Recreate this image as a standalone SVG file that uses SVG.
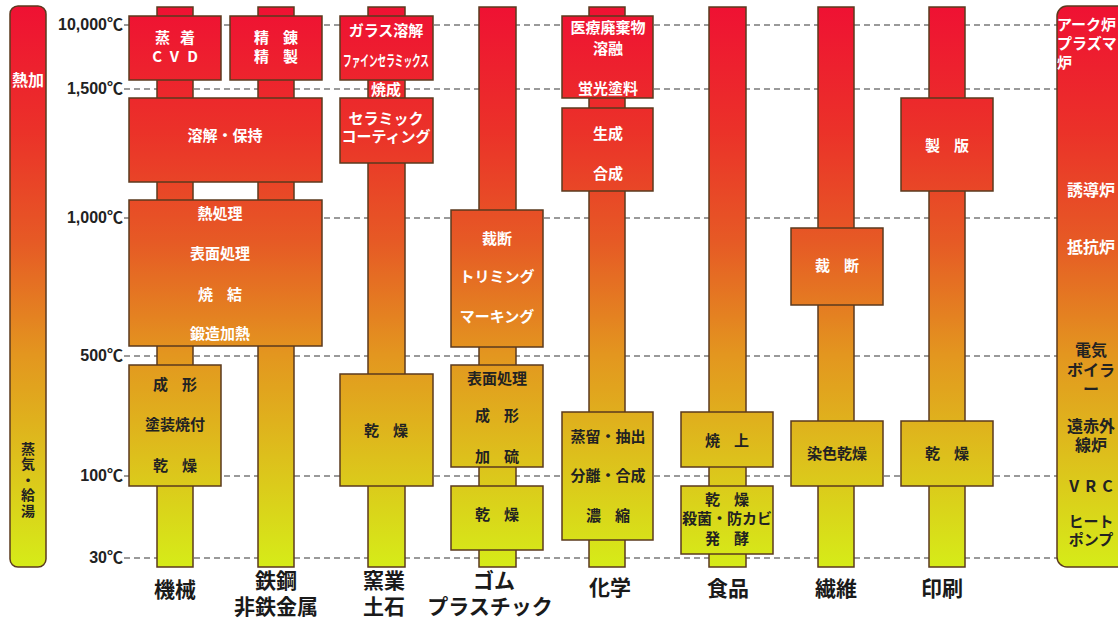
<svg xmlns="http://www.w3.org/2000/svg" width="1118" height="623" viewBox="0 0 1118 623">
<defs>
<linearGradient id="heat" gradientUnits="userSpaceOnUse" x1="0" y1="6" x2="0" y2="568">
<stop offset="0" stop-color="#EF1133"/>
<stop offset="0.22" stop-color="#EB3129"/>
<stop offset="0.42" stop-color="#E65A25"/>
<stop offset="0.62" stop-color="#E3961F"/>
<stop offset="0.8" stop-color="#DDBF1C"/>
<stop offset="1" stop-color="#D6EC18"/>
</linearGradient>
<style>
.bar{fill:url(#heat);stroke:#5b3a1e;stroke-width:1.5}
.box{fill:url(#heat);stroke:#5b3a1e;stroke-width:1.5}
.dash{stroke:#7a7a7a;stroke-width:1.6;stroke-dasharray:6 4;fill:none}
text{font-family:"Noto Sans CJK JP","Liberation Sans",sans-serif;font-weight:bold;text-anchor:middle}
.w{fill:#ffffff;font-size:15px}
.d{fill:#222222;font-size:15px}
.temp{fill:#222222;font-size:16px;text-anchor:end;font-family:"Liberation Sans","Noto Sans CJK JP",sans-serif}
.lab{fill:#1a1a1a;font-size:21px}
.side{font-size:16px}
.sm{font-size:15px}
.ls{font-size:14px}
.st{text-anchor:start}
</style>
</defs>
<rect width="1118" height="623" fill="#ffffff"/>

<g id="connectors">
<line class="dash" x1="124" y1="25" x2="1058" y2="25"/>
<line class="dash" x1="124" y1="89" x2="1058" y2="89"/>
<line class="dash" x1="124" y1="218" x2="1058" y2="218"/>
<line class="dash" x1="124" y1="356" x2="1058" y2="356"/>
<line class="dash" x1="124" y1="476" x2="1058" y2="476"/>
<line class="dash" x1="124" y1="558" x2="1058" y2="558"/>
</g>

<g id="scale-temps">
<text class="temp" x="123" y="30">10,000℃</text>
<text class="temp" x="123" y="94">1,500℃</text>
<text class="temp" x="123" y="223">1,000℃</text>
<text class="temp" x="123" y="361">500℃</text>
<text class="temp" x="123" y="481">100℃</text>
<text class="temp" x="123" y="563">30℃</text>
</g>

<g id="left-scale">
<rect class="bar" x="10" y="6" width="36" height="561" rx="8"/>
<text class="w" x="28" y="86" style="font-size:16px">熱加</text>
<text class="d ls" x="28" y="480" writing-mode="tb" style="letter-spacing:1.5px">蒸気・給湯</text>
</g>

<g id="col-kikai">
<rect class="bar" x="157" y="7" width="36" height="560"/>
<rect class="box" x="129" y="16" width="92" height="64"/>
<text class="w" x="180" y="43" letter-spacing="10">蒸着</text>
<text class="w" x="179" y="62" letter-spacing="8">CVD</text>
<rect class="box" x="129" y="365" width="92" height="121"/>
<text class="d" x="182" y="390" letter-spacing="14">成形</text>
<text class="d" x="175" y="430">塗装焼付</text>
<text class="d" x="182" y="471" letter-spacing="14">乾燥</text>
</g>

<g id="col-tekko">
<rect class="bar" x="258" y="7" width="36" height="560"/>
<rect class="box" x="230" y="16" width="92" height="64"/>
<text class="w" x="283" y="43" letter-spacing="14">精錬</text>
<text class="w" x="283" y="62" letter-spacing="14">精製</text>
</g>

<g id="shared-boxes">
<rect class="box" x="129" y="98" width="193" height="84"/>
<text class="w" x="225" y="141">溶解・保持</text>
<rect class="box" x="129" y="200" width="193" height="146"/>
<text class="w" x="220" y="219">熱処理</text>
<text class="w" x="220" y="259">表面処理</text>
<text class="w" x="227" y="300" letter-spacing="14">焼結</text>
<text class="w" x="220" y="339">鍛造加熱</text>
</g>

<g id="col-yogyo">
<rect class="bar" x="368" y="7" width="37" height="560"/>
<rect class="box" x="340" y="16" width="93" height="64"/>
<text class="w" x="386" y="36">ガラス溶解</text>
<text class="w" x="386" y="66" font-size="14" textLength="86" lengthAdjust="spacingAndGlyphs">ファインセラミックス</text>
<text class="w" x="386" y="95">焼成</text>
<rect class="box" x="340" y="98" width="93" height="65"/>
<text class="w" x="386" y="124">セラミック</text>
<text class="w" x="386" y="142">コーティング</text>
<rect class="box" x="340" y="374" width="93" height="112"/>
<text class="d" x="393" y="436" letter-spacing="14">乾燥</text>
</g>

<g id="col-gomu">
<rect class="bar" x="479" y="7" width="37" height="560"/>
<rect class="box" x="451" y="210" width="92" height="137"/>
<text class="w" x="497" y="244">裁断</text>
<text class="w" x="497" y="282">トリミング</text>
<text class="w" x="497" y="322">マーキング</text>
<rect class="box" x="451" y="365" width="92" height="102"/>
<text class="d" x="497" y="384">表面処理</text>
<text class="d" x="504" y="421" letter-spacing="14">成形</text>
<text class="d" x="504" y="462" letter-spacing="14">加硫</text>
<rect class="box" x="451" y="486" width="92" height="64"/>
<text class="d" x="504" y="520" letter-spacing="14">乾燥</text>
</g>

<g id="col-kagaku">
<rect class="bar" x="589" y="7" width="36" height="560"/>
<rect class="box" x="562" y="16" width="91" height="82"/>
<text class="w" x="608" y="33">医療廃棄物</text>
<text class="w" x="608" y="54">溶融</text>
<text class="w" x="608" y="94">蛍光塗料</text>
<rect class="box" x="562" y="108" width="91" height="83"/>
<text class="w" x="608" y="139">生成</text>
<text class="w" x="608" y="179">合成</text>
<rect class="box" x="562" y="412" width="91" height="128"/>
<text class="d" x="608" y="442">蒸留・抽出</text>
<text class="d" x="608" y="481">分離・合成</text>
<text class="d" x="615" y="521" letter-spacing="14">濃縮</text>
</g>

<g id="col-shokuhin">
<rect class="bar" x="709" y="7" width="37" height="560"/>
<rect class="box" x="681" y="412" width="92" height="55"/>
<text class="d" x="734" y="446" letter-spacing="14">焼上</text>
<rect class="box" x="681" y="486" width="92" height="68"/>
<text class="d" x="734" y="505" letter-spacing="14">乾燥</text>
<text class="d" x="727" y="524">殺菌・防カビ</text>
<text class="d" x="734" y="544" letter-spacing="14">発酵</text>
</g>

<g id="col-seni">
<rect class="bar" x="818" y="7" width="36" height="560"/>
<rect class="box" x="791" y="228" width="92" height="77"/>
<text class="w" x="844" y="271" letter-spacing="14">裁断</text>
<rect class="box" x="791" y="421" width="92" height="65"/>
<text class="d" x="837" y="459">染色乾燥</text>
</g>

<g id="col-insatsu">
<rect class="bar" x="929" y="7" width="36" height="560"/>
<rect class="box" x="901" y="98" width="92" height="93"/>
<text class="w" x="954" y="151" letter-spacing="14">製版</text>
<rect class="box" x="901" y="421" width="92" height="65"/>
<text class="d" x="954" y="459" letter-spacing="14">乾燥</text>
</g>

<g id="right-scale">
<rect class="bar" x="1057" y="6" width="75" height="561" rx="10"/>
<text class="w sm st" x="1057" y="30">アーク炉</text>
<text class="w sm st" x="1057" y="49">プラズマ</text>
<text class="w sm st" x="1057" y="68">炉</text>
<text class="w side" x="1091" y="196">誘導炉</text>
<text class="w side" x="1091" y="253">抵抗炉</text>
<text class="d side" x="1091" y="356">電気</text>
<text class="d side" x="1091" y="376">ボイラ</text>
<text class="d side" x="1091" y="395">ー</text>
<text class="d side" x="1091" y="432">遠赤外</text>
<text class="d side" x="1091" y="451">線炉</text>
<text class="d side" x="1094" y="492" letter-spacing="6">VRC</text>
<text class="d sm" x="1091" y="527">ヒート</text>
<text class="d sm" x="1091" y="545">ポンプ</text>
</g>

<g id="labels">
<text class="lab" x="175" y="597">機械</text>
<text class="lab" x="276" y="588">鉄鋼</text>
<text class="lab" x="276" y="614">非鉄金属</text>
<text class="lab" x="384" y="588">窯業</text>
<text class="lab" x="384" y="614">土石</text>
<text class="lab" x="494" y="588">ゴム</text>
<text class="lab" x="490" y="614">プラスチック</text>
<text class="lab" x="610" y="595">化学</text>
<text class="lab" x="728" y="596">食品</text>
<text class="lab" x="836" y="596">繊維</text>
<text class="lab" x="942" y="596">印刷</text>
</g>
</svg>
